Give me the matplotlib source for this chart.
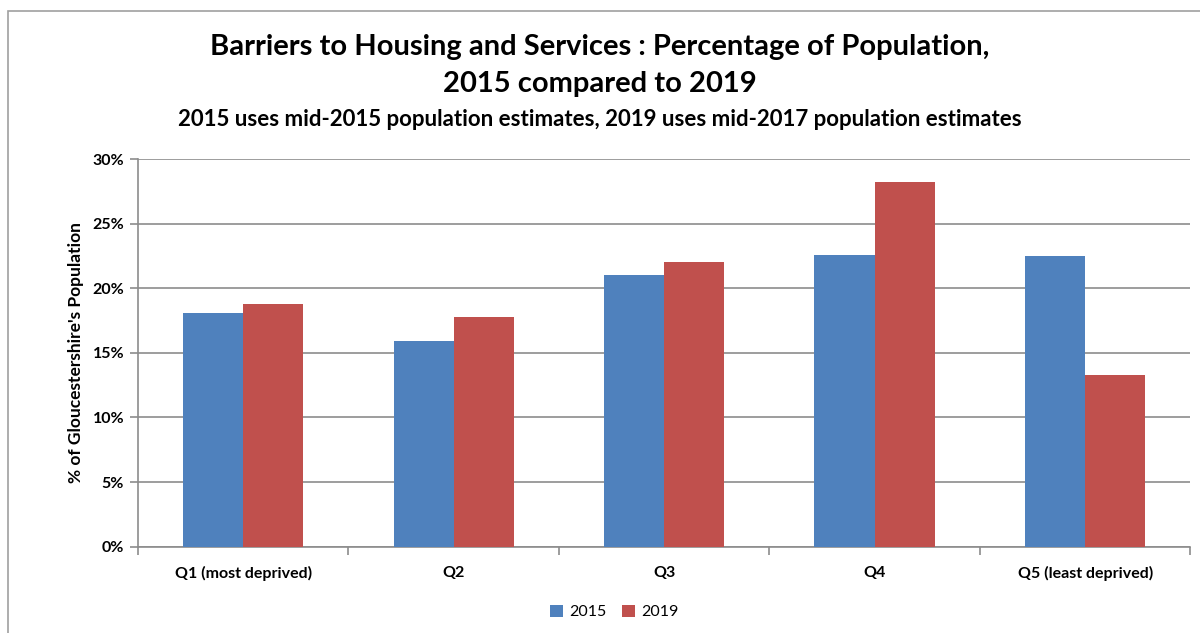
import matplotlib
matplotlib.use("Agg")
import matplotlib.pyplot as plt
import numpy as np
from matplotlib.patches import Rectangle
from matplotlib.ticker import FuncFormatter, FixedLocator

categories = ["Q1 (most deprived)", "Q2", "Q3", "Q4", "Q5 (least deprived)"]
series_names = ["2015", "2019"]
values_2015 = [18.1, 15.9, 21.0, 22.6, 22.5]
values_2019 = [18.8, 17.8, 22.0, 28.2, 13.3]
y_ticks = [0, 5, 10, 15, 20, 25, 30]

blue = "#4F81BD"
red = "#C0504D"
grid_col = "#8C8C8C"

plt.rcParams["font.family"] = ["Lato", "DejaVu Sans"]

fig = plt.figure(figsize=(12, 6.33), dpi=100)
fig.patches.append(Rectangle((8 / 1200, -0.1), 1.2, 1 - 11 / 633 + 0.1,
                             transform=fig.transFigure, fill=False,
                             edgecolor="#A0A0A0", linewidth=1.2))

ax = fig.add_axes([0.115, 0.1363, 0.877, 0.6125])
x = np.arange(len(categories))
w = 0.286
ax.bar(x - w / 2, values_2015, w, color=blue, label=series_names[0], zorder=3)
ax.bar(x + w / 2, values_2019, w, color=red, label=series_names[1], zorder=3)

ax.set_xlim(-0.5, len(categories) - 0.5)
ax.set_ylim(0, 30)
ax.yaxis.set_major_locator(FixedLocator(y_ticks))
ax.yaxis.set_major_formatter(FuncFormatter(lambda v, p: f"{v:.0f}%"))
ax.grid(axis="y", color=grid_col, linewidth=1.2, zorder=0)

ax.set_xticks(x)
ax.set_xticklabels(categories, fontweight="bold", fontsize=11.5)
ax.tick_params(axis="x", length=0, pad=14)
ax.set_xticks(np.arange(-0.5, len(categories)), minor=True)
ax.tick_params(axis="x", which="minor", length=6, color=grid_col, width=1.2)
ax.tick_params(axis="y", length=6, color=grid_col, width=1.2, labelsize=11.5, pad=4)
for lab in ax.get_yticklabels():
    lab.set_fontweight("bold")

for s in ["top", "right"]:
    ax.spines[s].set_visible(False)
for s in ["left", "bottom"]:
    ax.spines[s].set_color(grid_col)
    ax.spines[s].set_linewidth(1.2)

ax.set_ylabel("% of Gloucestershire's Population", fontweight="bold",
              fontsize=12.5, labelpad=6)

fig.text(0.5, 1 - 47 / 633, "Barriers to Housing and Services : Percentage of Population,",
         ha="center", va="center", fontsize=21, fontweight="bold")
fig.text(0.5, 1 - 84 / 633, "2015 compared to 2019",
         ha="center", va="center", fontsize=21, fontweight="bold")
fig.text(0.5, 1 - 120 / 633,
         "2015 uses mid-2015 population estimates, 2019 uses mid-2017 population estimates",
         ha="center", va="center", fontsize=16, fontweight="bold")

fig.legend(loc="center", bbox_to_anchor=(0.512, 1 - 612 / 633), ncol=2,
           frameon=False, fontsize=11.5, handlelength=0.8, handleheight=0.8,
           handletextpad=0.4, columnspacing=1.0)

fig.savefig("out.png", dpi=100)
